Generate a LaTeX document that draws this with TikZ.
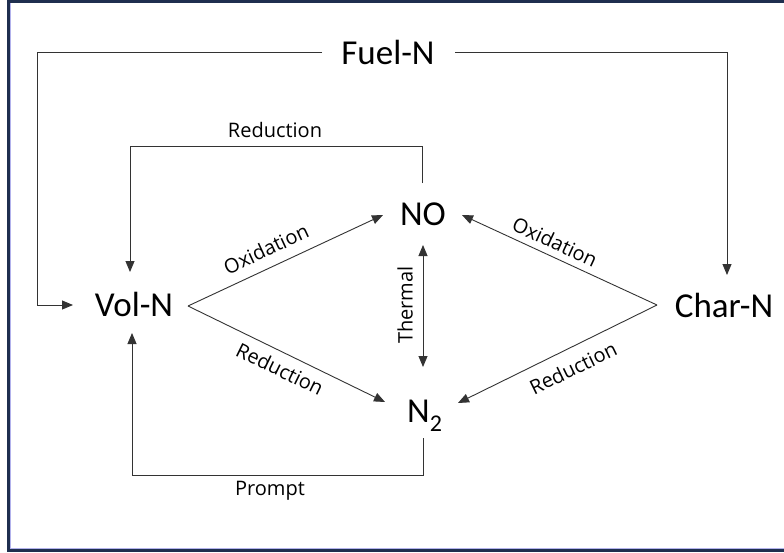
\documentclass[tikz,border=0pt]{standalone}
\usepackage{fontspec}
\setmainfont{Open Sans}
\newfontfamily\bigfont{Carlito}
\usetikzlibrary{arrows.meta}
\definecolor{framenavy}{HTML}{1F2F4F}
\begin{document}
\begin{tikzpicture}[x=1pt,y=-1pt,
  big/.style={font=\bigfont\fontsize{35}{40}\selectfont, inner sep=0pt},
  small/.style={font=\fontsize{20}{23}\selectfont, inner sep=0pt},
  conn/.style={draw=black!80, line width=0.9pt},
  arr/.style={conn, -{Triangle[length=11pt,width=9pt]}},
  darr/.style={conn, {Triangle[length=11pt,width=9pt]}-{Triangle[length=11pt,width=9pt]}}]
\useasboundingbox (0,0) rectangle (784,552);
\clip (0,0) rectangle (784,552);
\fill[white] (0,0) rectangle (784,552);
\draw[framenavy, line width=3pt] (8,1) rectangle (800,550.5);
\draw[black!25!blue!30, line width=0.8pt] (10,3) -- (10,548.5) -- (800,548.5);

% main nodes
\node[big] (fuel) at (388,52) {Fuel-N};
\node[big] (vol) at (134,304) {Vol-N};
\node[big] (char) at (724,305) {Char-N};
\node[big] (no) at (423,214) {NO};
\node[big, anchor=base west] (n2) at (407,422) {N\raisebox{-9pt}{\fontsize{24}{26}\selectfont 2}};

% connector ends
\coordinate (fl) at (322,52);
\coordinate (fr) at (455,52);
\coordinate (volw) at (73,305);
\coordinate (voln) at (130,272);
\coordinate (vols) at (132,333);
\coordinate (vole) at (188,306);
\coordinate (charn) at (727,275);
\coordinate (charw) at (657,305);
\coordinate (nonw) at (383,215);
\coordinate (noe) at (462,215);
\coordinate (not) at (422,183);
\coordinate (nos) at (423,245);
\coordinate (n2n) at (423,367);
\coordinate (n2w) at (385,402);
\coordinate (n2e) at (458,403);
\coordinate (n2b) at (423,438);

% Fuel-N branches
\draw[arr] (fl) -- (37,52) |- (volw);
\draw[arr] (fr) -| (charn);

% Reduction loop (top)
\draw[arr] (not) -- (422,146) -| (voln);
\node[small] (redtop) at (275,130) {Reduction};

% Prompt loop (bottom)
\draw[arr] (n2b) -- (423,475) -| (vols);
\node[small] (prompt) at (270,491) {Prompt};

% Thermal
\draw[darr] (nos) -- (n2n);
\node[small, rotate=90] (thermal) at (405,305) {Thermal};

% Vol-N diagonals
\draw[arr] (vole) -- (nonw);
\draw[arr] (vole) -- (n2w);
\node[small, rotate=25] (oxl) at (266,249) {Oxidation};
\node[small, rotate=-26] (redl) at (280,369) {Reduction};

% Char-N diagonals
\draw[arr] (charw) -- (noe);
\draw[arr] (charw) -- (n2e);
\node[small, rotate=-25] (oxr) at (555,242) {Oxidation};
\node[small, rotate=26] (redr) at (573,368) {Reduction};
\end{tikzpicture}
\end{document}
